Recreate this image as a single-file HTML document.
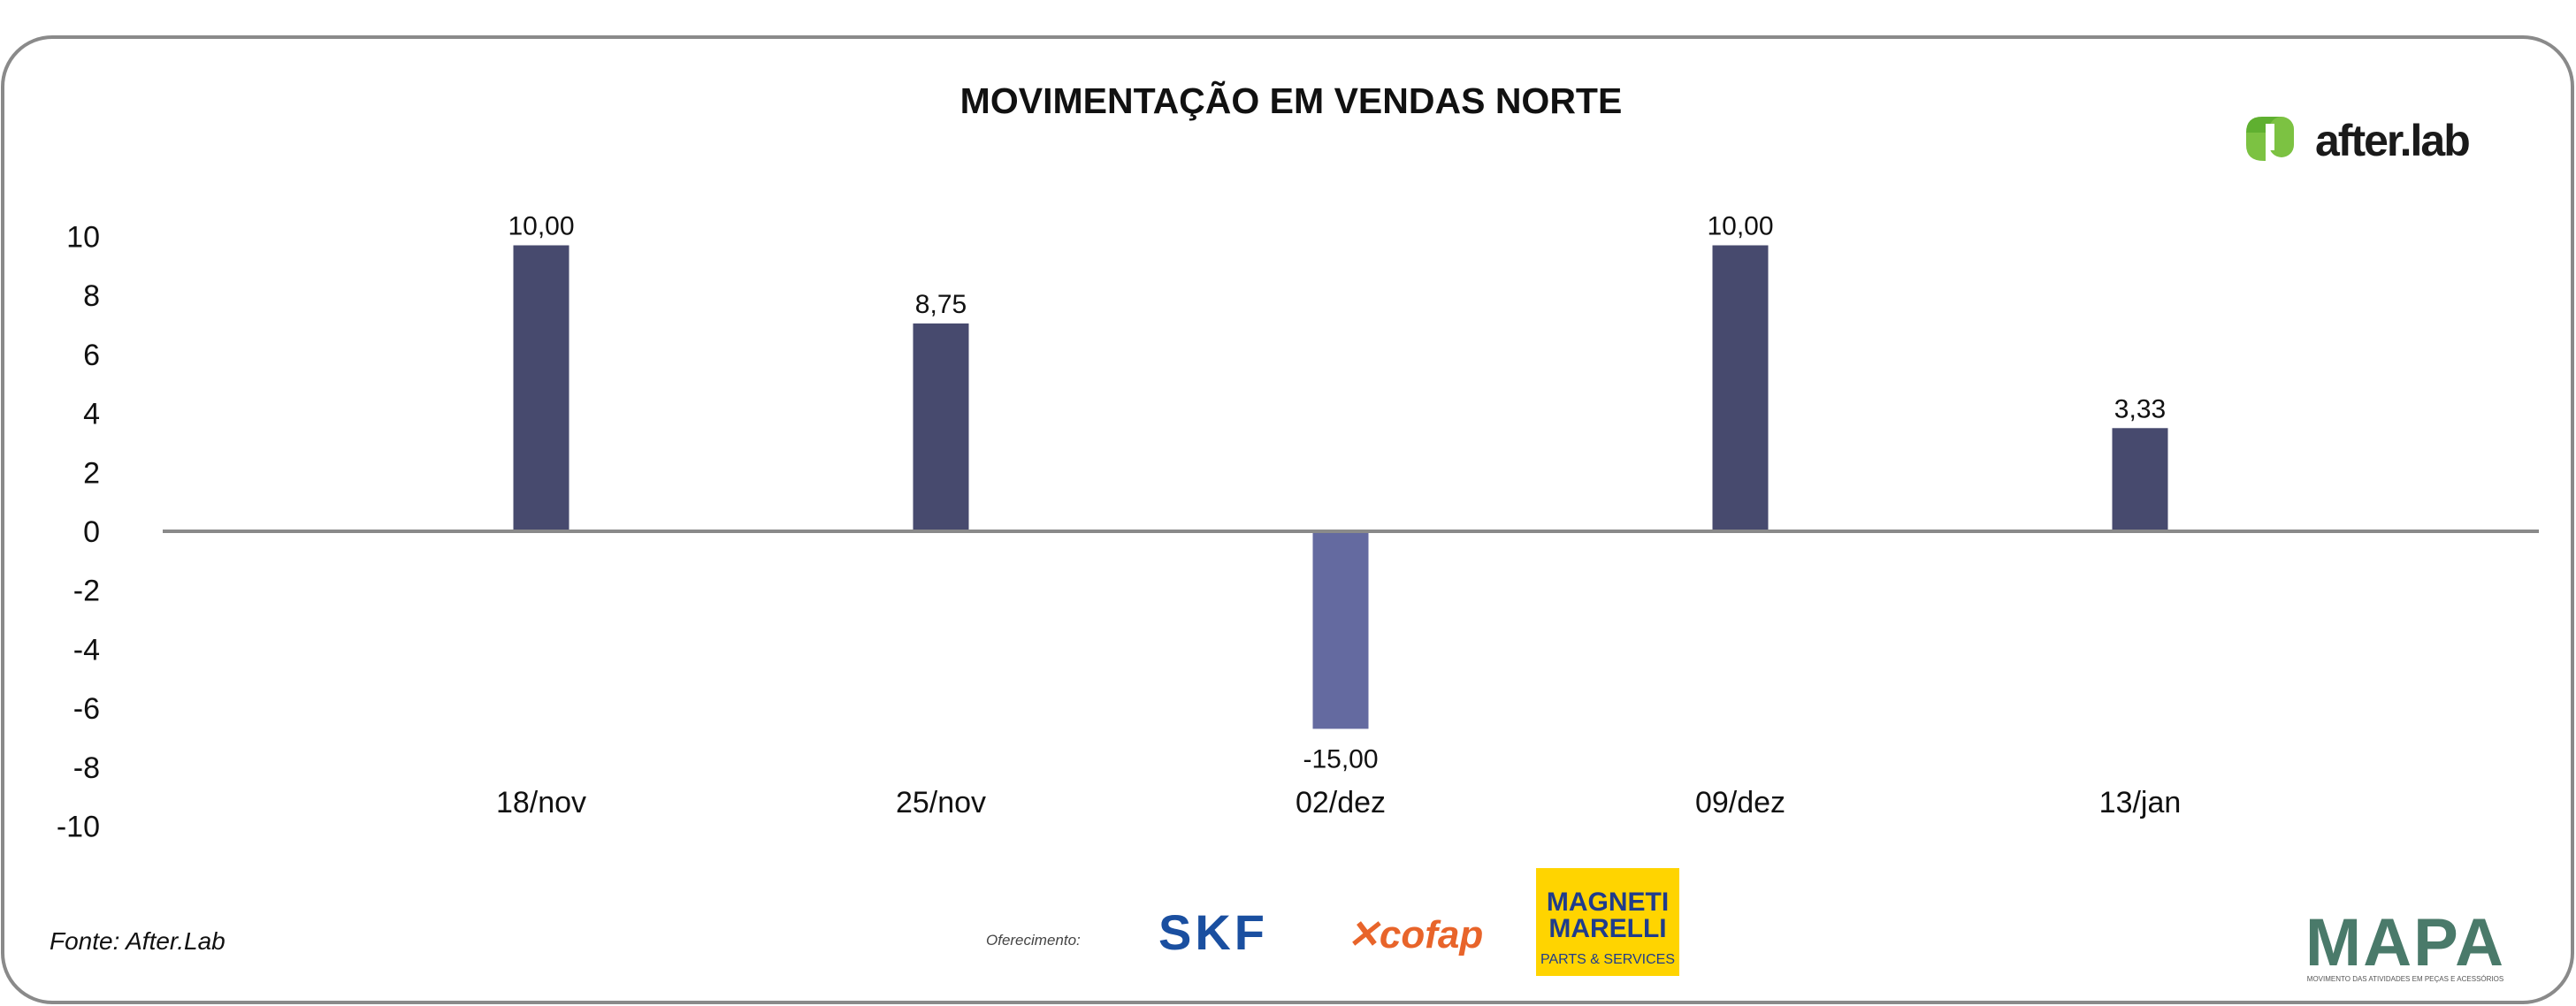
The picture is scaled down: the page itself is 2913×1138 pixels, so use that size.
<!DOCTYPE html>
<html><head><meta charset="utf-8">
<style>
html,body{margin:0;padding:0;background:#fff;}
body{width:2913px;height:1138px;overflow:hidden;position:relative;font-family:"Liberation Sans",sans-serif;}
svg{position:absolute;left:0;top:0;}
</style></head>
<body>
<svg width="2913" height="1138" viewBox="0 0 2913 1138">
  <rect x="3" y="42" width="2906" height="1092" rx="56" ry="56" fill="#fff" stroke="#8a8a8a" stroke-width="4"/>
  <text x="1460" y="128" text-anchor="middle" font-size="41" font-weight="bold" fill="#111">MOVIMENTAÇÃO EM VENDAS NORTE</text>
  <g>
    <path d="M2540 150 q0 -18 18 -18 h22 v36 h-22 z" fill="#5fb030"/>
    <path d="M2560 182 q-20 0 -20 -18 v-14 h22 q0 0 0 32z" fill="#7cc242"/>
    <rect x="2566" y="132" width="28" height="46" rx="14" fill="#7cc242"/>
    <rect x="2562" y="140" width="10" height="30" fill="#fff"/>
    <text x="2618" y="176" font-size="50" font-weight="bold" fill="#1a1a1a" letter-spacing="-2">after.lab</text>
  </g>
  <g id="yticks"></g>
  <g id="bars"></g>
  <line x1="184" y1="601" x2="2871" y2="601" stroke="#8a8a8a" stroke-width="4"/>
  <g id="xlabels"></g>
  <text x="56" y="1074" font-size="28" font-style="italic" fill="#111">Fonte: After.Lab</text>
  <text x="1115" y="1069" font-size="17" font-style="italic" fill="#444">Oferecimento:</text>
  <text x="1310" y="1074" font-size="56" font-weight="bold" fill="#1a4fa0" letter-spacing="4">SKF</text>
  <text x="1523" y="1072" font-size="44" font-weight="bold" font-style="italic" fill="#e8642a">✕cofap</text>
  <g>
    <rect x="1737" y="982" width="162" height="122" fill="#ffd400"/>
    <text x="1818" y="1030" text-anchor="middle" font-size="30" font-weight="bold" fill="#1f3c8c">MAGNETI</text>
    <text x="1818" y="1060" text-anchor="middle" font-size="30" font-weight="bold" fill="#1f3c8c">MARELLI</text>
    <text x="1818" y="1090" text-anchor="middle" font-size="16" fill="#1f3c8c">PARTS &amp; SERVICES</text>
  </g>
  <g>
    <text x="2720" y="1092" text-anchor="middle" font-size="76" font-weight="bold" fill="#4a7a6a" letter-spacing="2">MAPA</text>
    <text x="2720" y="1110" text-anchor="middle" font-size="8" fill="#555">MOVIMENTO DAS ATIVIDADES EM PEÇAS E ACESSÓRIOS</text>
  </g>
</svg>
<script>
const categories = ["18/nov","25/nov","02/dez","09/dez","13/jan"];
const barValues = [9.7, 7.05, -6.7, 9.7, 3.5];
const valueLabels = ["10,00","8,75","-15,00","10,00","3,33"];
const yTicks = [10,8,6,4,2,0,-2,-4,-6,-8,-10];

const NS = "http://www.w3.org/2000/svg";
const zeroY = 601, unit = 33.35;
function yScale(v){ return zeroY - v*unit; }
function xScale(i){ return 1516 + (i - (categories.length-1)/2)*452; }
const barW = 63;

const yt = document.getElementById('yticks');
yTicks.forEach(v=>{
  const t = document.createElementNS(NS,'text');
  t.setAttribute('x',113); t.setAttribute('y',yScale(v)+12);
  t.setAttribute('text-anchor','end'); t.setAttribute('font-size','34'); t.setAttribute('fill','#111');
  t.textContent = v;
  
  
  yt.appendChild(t);
});

const bg = document.getElementById('bars');
const xl = document.getElementById('xlabels');
categories.forEach((c,i)=>{
  const v = barValues[i];
  const cx = xScale(i);
  const y0 = Math.min(yScale(v), zeroY), h = Math.abs(yScale(v)-zeroY);
  const r = document.createElementNS(NS,'rect');
  r.setAttribute('x',cx-barW/2); r.setAttribute('y',y0);
  r.setAttribute('width',barW); r.setAttribute('height',h);
  r.setAttribute('fill', v<0 ? '#646aa0' : '#474a6e');
  
  
  bg.appendChild(r);
  const lt = document.createElementNS(NS,'text');
  lt.setAttribute('x',cx);
  lt.setAttribute('y', v<0 ? yScale(v)+44 : yScale(v)-12);
  lt.setAttribute('text-anchor','middle'); lt.setAttribute('font-size','30'); lt.setAttribute('fill','#111');
  lt.textContent = valueLabels[i];
  
  
  bg.appendChild(lt);
  const xt = document.createElementNS(NS,'text');
  xt.setAttribute('x',cx); xt.setAttribute('y',919);
  xt.setAttribute('text-anchor','middle'); xt.setAttribute('font-size','34'); xt.setAttribute('fill','#111');
  xt.textContent = c;
  
  
  xl.appendChild(xt);
});
</script>
</body></html>
